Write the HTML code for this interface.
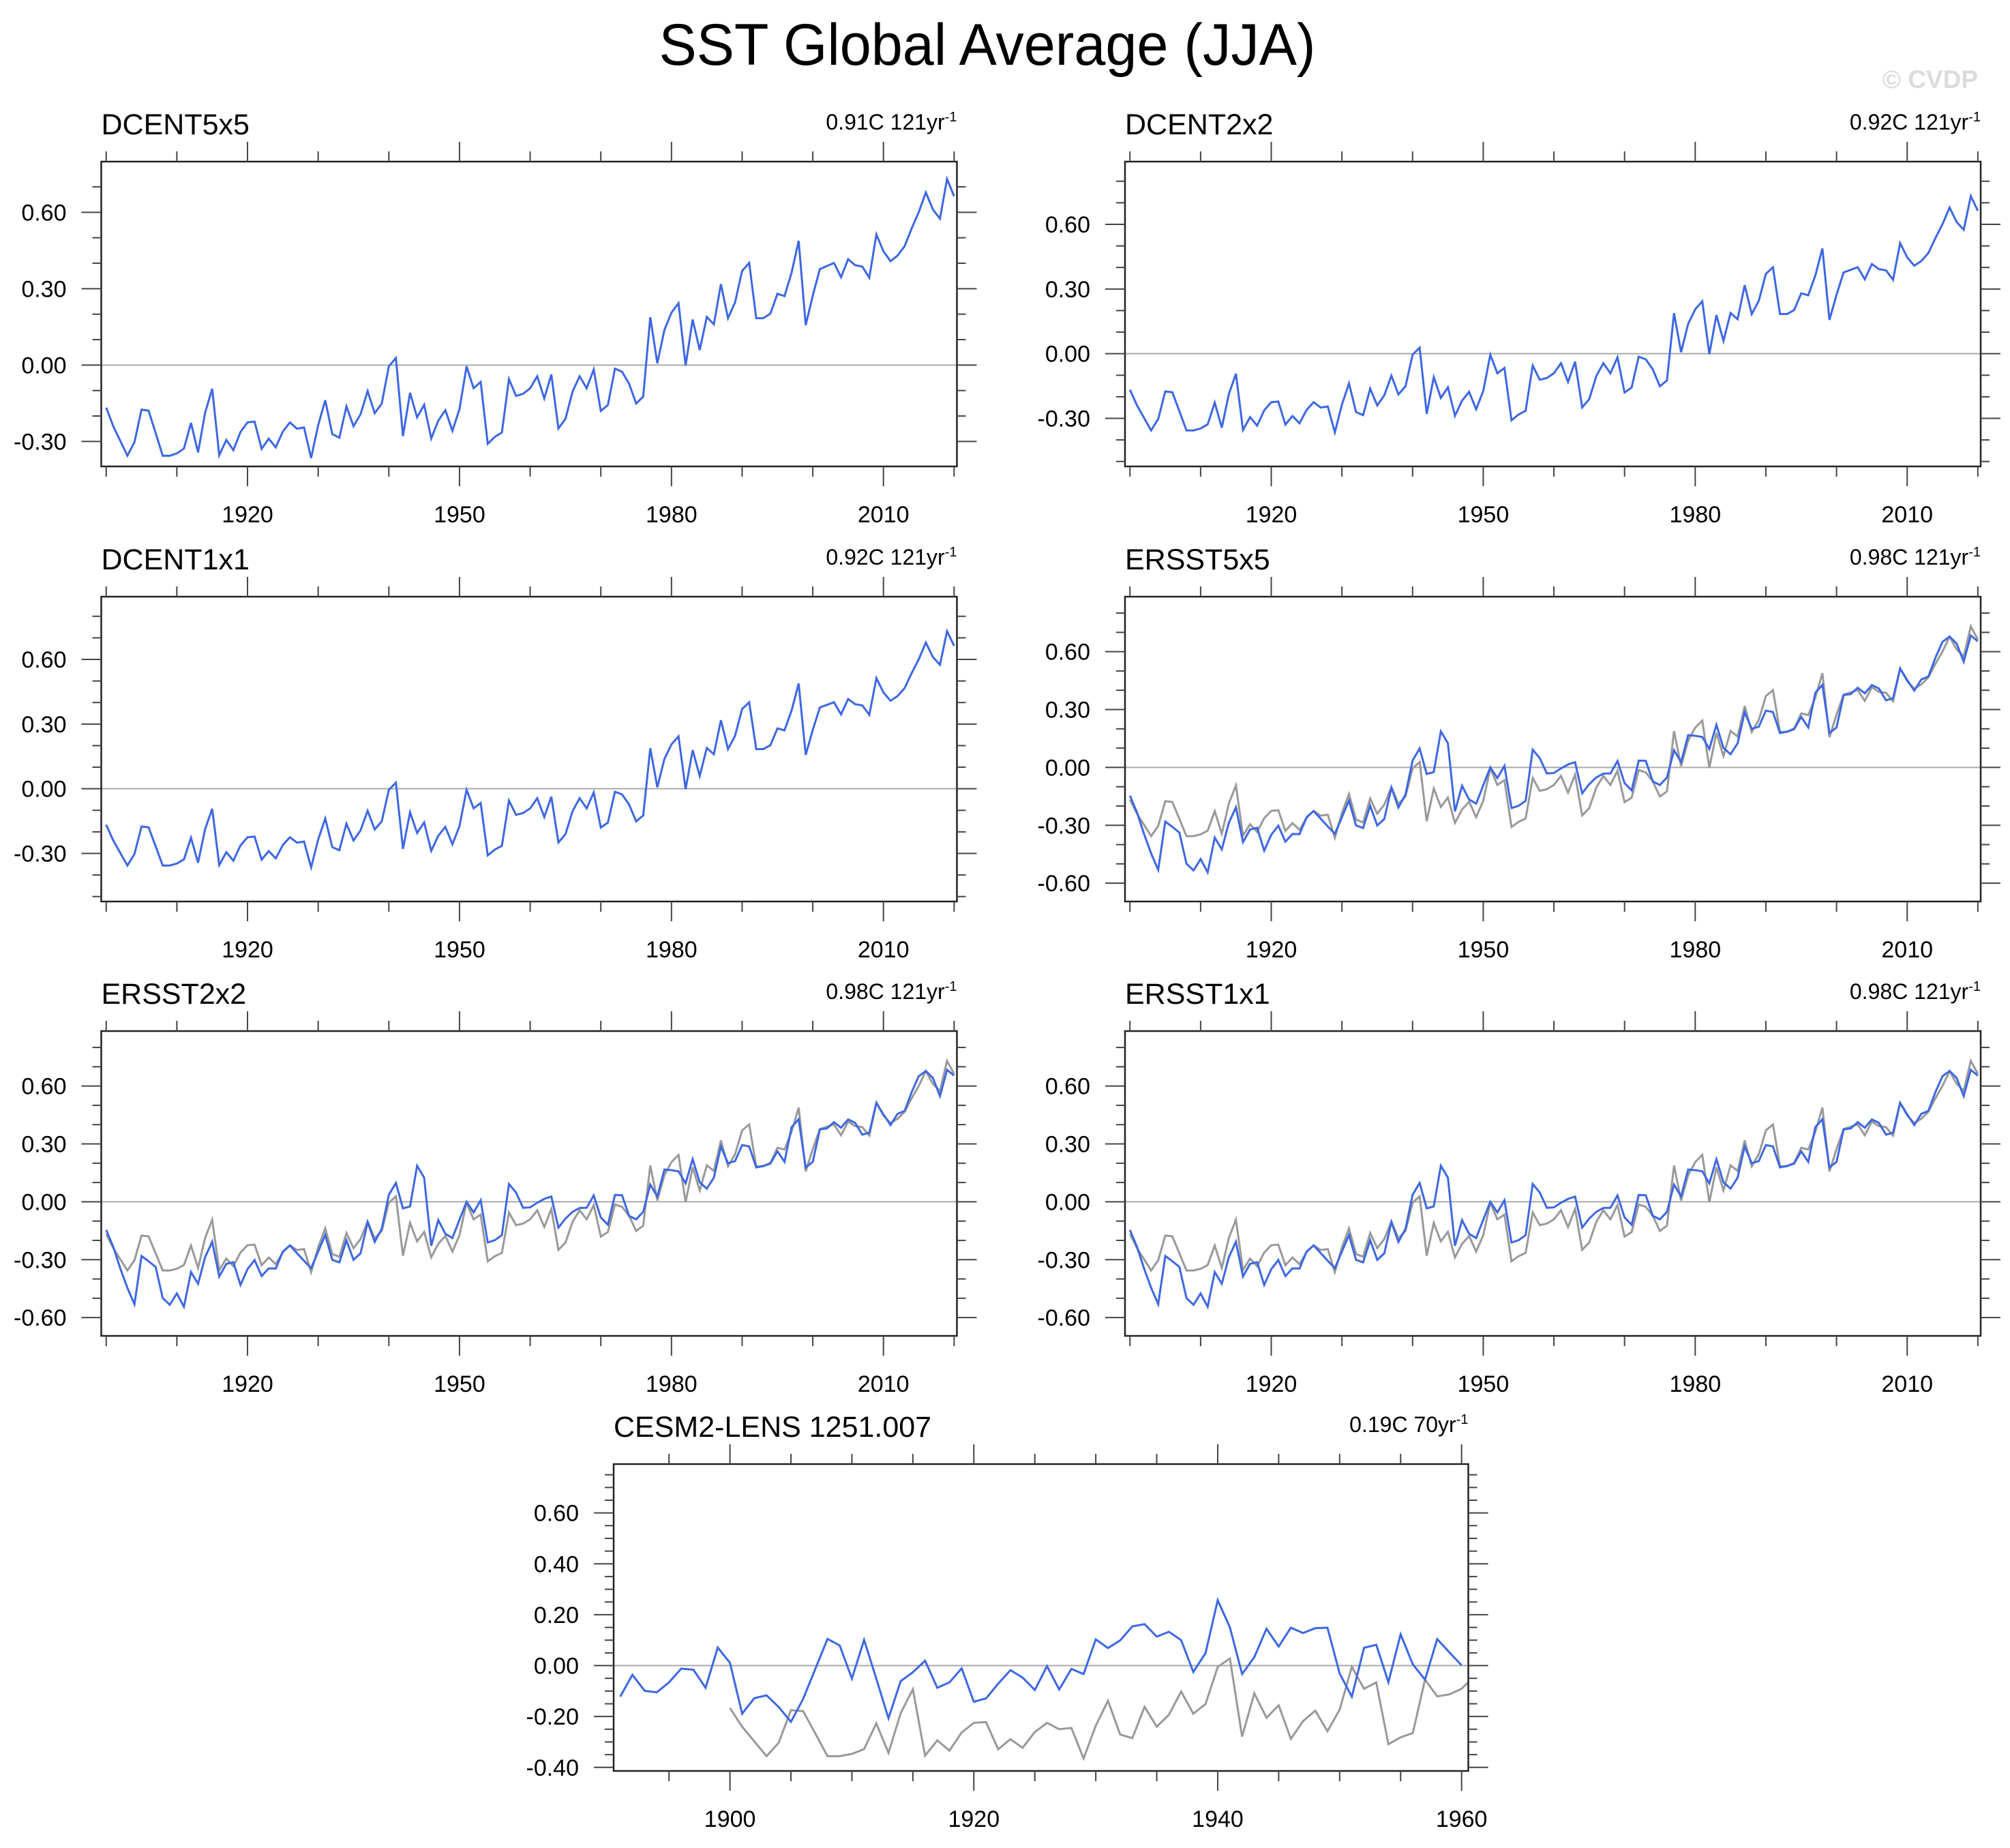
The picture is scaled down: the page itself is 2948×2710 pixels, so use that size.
<!DOCTYPE html>
<html><head><meta charset="utf-8"><style>
html,body{margin:0;padding:0;background:#fff;}
svg{display:block;font-family:"Liberation Sans",Arial,sans-serif;}
</style></head><body>
<svg id="fig" width="2948" height="2710" viewBox="0 0 2948 2710" xmlns="http://www.w3.org/2000/svg">
<text x="1448" y="95" font-size="86" text-anchor="middle" textLength="963" lengthAdjust="spacingAndGlyphs" fill="#000">SST Global Average (JJA)</text>
<text x="2901" y="129" font-size="37" font-weight="bold" text-anchor="end" fill="#dcdcdc">© CVDP</text>
</svg>
<script>
// ---- data ----
const dcentStart = 1900;
const dcentValues = [-0.167,-0.240,-0.298,-0.356,-0.303,-0.175,-0.179,-0.267,-0.356,-0.356,
-0.347,-0.328,-0.227,-0.343,-0.187,-0.093,-0.354,-0.294,-0.334,-0.263,
-0.225,-0.222,-0.329,-0.289,-0.323,-0.261,-0.225,-0.250,-0.245,-0.365,
-0.236,-0.138,-0.271,-0.285,-0.162,-0.240,-0.193,-0.102,-0.189,-0.151,
-0.005,0.028,-0.279,-0.109,-0.205,-0.156,-0.288,-0.218,-0.177,-0.258,
-0.173,-0.005,-0.091,-0.066,-0.309,-0.282,-0.265,-0.055,-0.121,-0.113,
-0.091,-0.044,-0.131,-0.037,-0.249,-0.211,-0.104,-0.044,-0.091,-0.017,
-0.180,-0.157,-0.014,-0.026,-0.073,-0.151,-0.124,0.188,0.007,0.138,
0.206,0.243,-0.002,0.179,0.059,0.189,0.160,0.318,0.184,0.246,
0.370,0.401,0.184,0.184,0.202,0.280,0.271,0.363,0.488,0.157,
0.273,0.377,0.389,0.401,0.345,0.416,0.392,0.387,0.343,0.513,
0.447,0.408,0.430,0.467,0.537,0.601,0.678,0.611,0.575,0.731,0.663];
const ersstStart = 1900;
const ersstValues = [-0.146,-0.234,-0.346,-0.446,-0.531,-0.281,-0.308,-0.338,-0.499,-0.534,
-0.475,-0.544,-0.364,-0.425,-0.287,-0.207,-0.387,-0.322,-0.313,-0.431,
-0.349,-0.302,-0.385,-0.345,-0.346,-0.258,-0.226,-0.266,-0.306,-0.344,
-0.258,-0.172,-0.301,-0.314,-0.199,-0.301,-0.267,-0.105,-0.208,-0.140,
0.036,0.098,-0.034,-0.024,0.187,0.125,-0.228,-0.095,-0.166,-0.188,
-0.093,0.000,-0.055,0.008,-0.211,-0.199,-0.173,0.092,0.048,-0.031,
-0.029,-0.005,0.015,0.027,-0.134,-0.087,-0.052,-0.032,-0.031,0.033,
-0.081,-0.119,0.035,0.034,-0.073,-0.091,-0.052,0.089,0.028,0.167,
0.164,0.158,0.096,0.221,0.101,0.068,0.125,0.286,0.200,0.211,
0.294,0.287,0.178,0.186,0.198,0.262,0.207,0.387,0.428,0.178,
0.207,0.375,0.380,0.413,0.384,0.427,0.409,0.348,0.358,0.513,
0.453,0.398,0.456,0.471,0.569,0.651,0.678,0.642,0.548,0.684,0.654];
const cesmStart = 1891;
const cesmValues = [-0.122,-0.036,-0.099,-0.105,-0.066,-0.012,-0.016,-0.087,0.071,
0.011,-0.189,-0.128,-0.117,-0.163,-0.221,-0.131,-0.013,0.105,0.079,
-0.051,0.101,-0.051,-0.207,-0.061,-0.026,0.019,-0.087,-0.066,-0.011,
-0.142,-0.129,-0.071,-0.018,-0.047,-0.096,-0.002,-0.094,-0.013,-0.033,
0.103,0.069,0.099,0.154,0.163,0.114,0.133,0.100,-0.025,0.049,
0.257,0.150,-0.033,0.033,0.145,0.075,0.149,0.128,0.147,0.149,
-0.031,-0.122,0.070,0.082,-0.065,0.123,0.005,-0.055,0.104,0.052,0.001];
const topYearTicks = [1920,1950,1980,2010];
const cesmYearTicks = [1900,1920,1940,1960];
const panelTitles = ["DCENT5x5","DCENT2x2","DCENT1x1","ERSST5x5","ERSST2x2","ERSST1x1","CESM2-LENS 1251.007"];
const trendValues = ["0.91C","0.92C","0.92C","0.98C","0.98C","0.98C","0.19C"];
const trendYears = ["121yr","121yr","121yr","121yr","121yr","121yr","70yr"];

const NS = "http://www.w3.org/2000/svg";
const svg = document.getElementById('fig');
const BLUE = "#3d67e3", GRAY = "#999999";

function mk(tag, attrs, parent){
  const e = document.createElementNS(NS, tag);
  for (const k in attrs) e.setAttribute(k, attrs[k]);
  (parent||svg).appendChild(e);
  return e;
}

function drawPanel(idx, cfg){
  const g = mk('g', {});
  
  
  const X = v => cfg.x0 + (v - cfg.xmin) / (cfg.xmax - cfg.xmin) * cfg.w;
  const Y = v => cfg.y0 + (cfg.ymax - v) / (cfg.ymax - cfg.ymin) * cfg.h;
  const x1 = cfg.x0 + cfg.w, y1 = cfg.y0 + cfg.h;
  const cid = 'clip' + idx;
  const cp = mk('clipPath', {id: cid}, g);
  mk('rect', {x: cfg.x0, y: cfg.y0, width: cfg.w, height: cfg.h}, cp);
  const zl = mk('line', {x1: cfg.x0, x2: x1, y1: Y(0), y2: Y(0), stroke: '#aaaaaa', 'stroke-width': 2}, g);
  
  
  cfg.series.forEach(s => {
    const pts = s.values.map((v, i) => X(s.start + i).toFixed(2) + ',' + Y(v).toFixed(2)).join(' ');
    const pl = mk('polyline', {points: pts, fill: 'none', stroke: s.color, 'stroke-width': 3, 'stroke-linejoin': 'miter', 'clip-path': 'url(#' + cid + ')'}, g);
    
    
  });
  const fr = mk('rect', {x: cfg.x0, y: cfg.y0, width: cfg.w, height: cfg.h, fill: 'none', stroke: '#222', 'stroke-width': 2.5}, g);
  
  
  for (let yr = cfg.xMinorStart; yr <= cfg.xmax + 0.001; yr += cfg.xMinorStep){
    if (yr < cfg.xmin) continue;
    const major = cfg.xMajor.includes(yr);
    const L = major ? 29 : 15;
    const x = X(yr);
    mk('line', {x1: x, x2: x, y1: y1, y2: y1 + L, stroke: '#444', 'stroke-width': 2}, g);
    mk('line', {x1: x, x2: x, y1: cfg.y0, y2: cfg.y0 - L, stroke: '#444', 'stroke-width': 2}, g);
    if (major){
      const t = mk('text', {x: x, y: y1 + 82, 'font-size': 34, 'text-anchor': 'middle', fill: '#000'}, g);
      t.textContent = String(yr);
      
      
    }
  }
  const nMin = Math.ceil(cfg.ymin / cfg.yMinor - 1e-6), nMax = Math.floor(cfg.ymax / cfg.yMinor + 1e-6);
  const ratio = Math.round(cfg.yMajor / cfg.yMinor);
  for (let n = nMin; n <= nMax; n++){
    const v = n * cfg.yMinor;
    const major = (n % ratio) === 0;
    const L = major ? 29 : 13;
    const y = Y(v);
    mk('line', {x1: cfg.x0, x2: cfg.x0 - L, y1: y, y2: y, stroke: '#444', 'stroke-width': 2}, g);
    mk('line', {x1: x1, x2: x1 + L, y1: y, y2: y, stroke: '#444', 'stroke-width': 2}, g);
    if (major){
      const t = mk('text', {x: cfg.x0 - 51, y: y + 12, 'font-size': 34, 'text-anchor': 'end', fill: '#000'}, g);
      t.textContent = (Math.abs(v) < 1e-9 ? 0 : v).toFixed(2);
      
      
    }
  }
  const tt = mk('text', {x: cfg.x0, y: cfg.y0 - 40, 'font-size': 43, fill: '#000'}, g);
  tt.textContent = panelTitles[idx];
  
  
  const tr = mk('text', {x: x1, y: cfg.y0 - 47, 'font-size': 32, 'text-anchor': 'end', fill: '#000'}, g);
  
  
  const a = mk('tspan', {}, tr); a.textContent = trendValues[idx] + ' ' + trendYears[idx];
  const b = mk('tspan', {dy: -12, 'font-size': 20}, tr); b.textContent = '-1';
}

const W = 1255, H = 447;
const cols = [148.5, 1650];
const rows = [237, 875, 1512];
const topX = {xmin: 1899.3, xmax: 2020.4, xMinorStart: 1900, xMinorStep: 10, xMajor: topYearTicks};
const dcentOnly = [{name: 'dcent-line', start: dcentStart, values: dcentValues, color: BLUE}];
const ersstPlus = [{name: 'dcent-reference-line', start: dcentStart, values: dcentValues, color: GRAY},
                   {name: 'ersst-line', start: ersstStart, values: ersstValues, color: BLUE}];
const yA = {ymin: -0.398, ymax: 0.799, yMajor: 0.3, yMinor: 0.1};
const yB = {ymin: -0.523, ymax: 0.891, yMajor: 0.3, yMinor: 0.1};
const yC = {ymin: -0.695, ymax: 0.885, yMajor: 0.3, yMinor: 0.1};
const layouts = [
  [cols[0], rows[0], yA, dcentOnly],
  [cols[1], rows[0], yB, dcentOnly],
  [cols[0], rows[1], yB, dcentOnly],
  [cols[1], rows[1], yC, ersstPlus],
  [cols[0], rows[2], yC, ersstPlus],
  [cols[1], rows[2], yC, ersstPlus]
];
layouts.forEach((l, i) => {
  drawPanel(i, Object.assign({x0: l[0], y0: l[1], w: W, h: H, series: l[3]}, topX, l[2]));
});
drawPanel(6, {x0: 900, y0: 2147, w: 1253.5, h: 450, xmin: 1890.46, xmax: 1960.55, xMinorStart: 1895, xMinorStep: 5, xMajor: cesmYearTicks,
  ymin: -0.414, ymax: 0.792, yMajor: 0.2, yMinor: 0.05,
  series: [{name: 'dcent-reference-line', start: dcentStart, values: dcentValues.slice(0, 62), color: GRAY},
           {name: 'cesm2-lens-line', start: cesmStart, values: cesmValues, color: BLUE}]});
</script>
</body></html>
